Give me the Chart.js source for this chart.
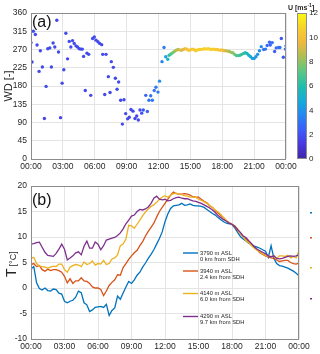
<!DOCTYPE html>
<html>
<head>
<meta charset="utf-8">
<script src="https://cdn.jsdelivr.net/npm/chart.js@4.4.1/dist/chart.umd.min.js"></script>
<style>
  html, body { margin: 0; padding: 0; background: #fff; }
  #wrap { position: relative; width: 320px; height: 354px; overflow: hidden; }
  #cA { position: absolute; left: 0; top: 0; }
  #cB { position: absolute; left: 0; top: 172px; }
</style>
</head>
<body>
<div id="wrap">
  <canvas id="cA" width="320" height="172"></canvas>
  <canvas id="cB" width="320" height="182"></canvas>
</div>
<script>
// ─── (a) wind direction, coloured by wind speed ───
const wdHour = [0.00,0.10,0.22,0.41,0.57,0.76,0.88,1.07,1.26,1.42,1.58,1.77,1.92,2.08,2.24,2.43,2.59,2.78,2.93,3.09,
  3.28,3.44,3.60,3.75,3.91,4.07,4.23,4.38,4.54,4.70,4.83,4.95,5.11,5.27,5.43,5.62,
  5.80,5.96,6.12,6.30,6.46,6.65,6.75,6.94,7.06,7.28,7.44,7.56,7.75,7.94,8.10,8.25,8.44,8.60,8.75,8.91,
  9.10,9.25,9.41,9.60,9.79,9.95,10.10,10.26,10.42,10.57,10.80,10.95,11.10,11.27,11.42,11.60,11.76,11.95,
  12.10,12.33,12.52,12.68,12.87,
  13.00,13.17,13.33,13.50,13.67,13.83,14.00,14.17,14.33,14.50,14.67,14.83,15.00,15.17,15.33,15.50,15.67,15.83,
  16.00,16.17,16.33,16.50,16.67,16.83,17.00,17.17,17.33,17.50,17.67,17.83,18.00,18.17,18.33,18.50,18.67,18.83,
  19.00,19.17,19.33,19.50,19.67,19.83,20.00,20.17,20.33,20.50,20.67,20.83,21.00,21.17,21.33,21.50,21.67,
  21.90,22.07,22.23,22.45,22.52,22.70,22.93,23.08,23.30,23.43,23.56,23.75,23.94,24.00];
const wdDir = [287,239,315,307,281,216,267,227,100,179,272,274,227,286,276,342,264,102,187,220,
  310,247,290,276,292,285,279,276,272,271,271,253,169,261,258,157,
  297,301,293,289,285,282,258,159,258,203,164,240,226,199,172,190,145,86,146,112,
  99,103,122,118,100,106,96,121,113,121,157,117,145,156,145,169,177,165,
  192,240,275,252,246,
  256,259,262,265,268,270,269,268,270,272,271,268,269,271,270,267,269,270,
  270,271,272,271,272,271,270,271,270,270,269,268,269,267,267,266,265,263,
  262,258,255,255,256,258,260,262,260,256,252,248,248,252,258,267,277,
  270,271,280,288,281,287,265,274,275,275,297,251,271,279];
const wdSpeed = [1.8,1.8,1.9,1.8,1.8,1.7,1.8,1.8,1.7,1.8,1.9,1.8,1.8,1.9,1.8,1.7,1.8,1.7,1.8,1.8,
  1.9,1.8,1.8,1.9,1.8,1.8,1.8,1.9,1.8,1.8,1.8,1.8,1.7,1.8,1.8,1.7,
  1.9,1.9,1.8,1.8,1.8,1.8,1.8,1.7,1.8,1.8,1.7,1.9,1.8,1.8,1.8,1.8,1.8,1.7,1.8,1.8,
  1.8,1.8,1.9,1.8,1.8,1.8,1.8,2.0,2.0,2.2,2.6,2.5,3.0,3.0,3.2,3.0,3.3,3.2,
  3.8,3.5,3.3,4.5,5.3,
  6.2,6.8,7.4,8.0,8.5,8.8,9.0,9.3,9.4,9.7,10.0,10.2,10.3,10.4,10.4,10.5,10.5,10.6,
  10.6,10.7,10.7,10.8,10.8,10.7,10.6,10.6,10.5,10.4,10.3,10.2,10.0,9.6,9.1,8.7,8.4,8.2,
  8.0,7.5,7.0,6.7,6.5,6.4,6.3,6.0,5.6,5.2,4.8,4.5,4.3,4.1,4.0,3.9,3.6,
  3.0,3.1,2.8,2.7,2.6,2.9,2.4,2.8,3.0,2.9,2.2,2.2,3.0,3.2];

// ─── (b) air temperature at four stations ───
const tHour = [0,0.25,0.5,0.75,1,1.25,1.5,1.75,2,2.25,2.5,2.75,3,3.25,3.5,3.75,4,4.25,4.5,4.75,
  5,5.25,5.5,5.75,6,6.25,6.5,6.75,7,7.25,7.5,7.75,8,8.25,8.5,8.75,9,9.25,9.5,9.75,
  10,10.25,10.5,10.75,11,11.25,11.5,11.75,12,12.25,12.5,12.75,13,13.25,13.5,13.75,14,14.25,14.5,14.75,
  15,15.25,15.5,15.75,16,16.25,16.5,16.75,17,17.25,17.5,17.75,18,18.25,18.5,18.75,19,19.25,19.5,19.75,
  20,20.25,20.5,20.75,21,21.25,21.5,21.75,22,22.25,22.5,22.75,23,23.25,23.5,23.75,24];
const temp3790 = [3.7,4.2,1.0,-0.1,-0.4,0.0,-0.5,-0.6,-0.2,-0.3,-1.0,-1.2,-2.6,-2.9,-2.6,-2.4,-1.8,-0.6,-0.9,-2.9,
  -3.3,-4.6,-4.3,-3.8,-3.7,-3.6,-3.8,-3.2,-5.4,-4.4,-3.9,-1.6,-2.2,-1.0,0.2,1.3,0.9,1.6,2.5,3.1,
  4.1,4.9,5.8,6.6,7.5,8.6,9.7,11.0,13.0,14.5,15.6,16.1,16.2,16.3,16.6,16.2,16.3,16.5,16.2,16.1,
  16.1,16.0,15.8,15.4,15.0,14.6,14.3,13.8,13.4,13.0,12.7,12.6,12.4,11.8,10.9,10.1,9.6,9.2,8.8,8.5,
  8.2,8.0,7.8,7.5,7.2,6.0,8.3,5.8,4.8,4.4,4.3,4.1,3.9,3.6,3.3,2.9,2.4];
const temp3940 = [4.6,4.8,4.2,4.4,3.6,3.3,3.7,3.4,3.6,3.6,3.4,3.1,2.3,1.0,1.8,0.9,1.4,1.4,2.0,1.4,
  1.3,0.9,0.2,0.0,0.0,-0.3,-1.5,-0.6,0.5,1.1,1.6,2.6,2.5,4.0,4.8,5.6,6.3,6.9,7.4,8.3,
  9.1,10.2,11.1,11.9,12.7,13.9,15.0,15.8,16.6,17.4,18.2,18.8,18.5,18.4,18.4,18.5,18.4,18.2,17.9,17.8,
  17.8,17.4,17.0,16.7,16.1,15.8,15.2,14.7,14.2,13.8,13.2,12.8,12.5,12.0,11.3,10.7,10.1,9.6,9.1,8.5,
  8.0,7.5,6.9,6.6,6.3,6.1,5.9,5.8,5.5,5.2,5.3,5.4,5.4,5.0,4.8,4.7,4.9];
const temp4140 = [5.8,6.0,4.8,4.3,4.2,4.1,3.9,4.1,4.3,4.2,4.7,4.7,3.6,3.1,4.1,4.4,4.6,4.5,4.2,5.1,
  4.6,4.8,5.3,4.5,4.8,4.7,5.4,4.6,4.8,5.7,5.9,6.5,8.3,8.6,9.6,12.3,12.2,11.7,12.5,13.3,
  14.2,14.9,15.5,16.0,16.3,16.8,17.4,17.8,18.1,17.8,18.2,18.5,18.6,18.4,18.3,18.1,18.0,17.8,17.8,17.8,
  17.4,17.2,16.9,16.6,16.2,15.8,15.3,14.9,14.4,13.8,13.2,12.8,12.5,12.2,11.6,10.6,10.1,9.2,8.9,8.3,
  7.8,7.4,7.1,6.7,6.4,6.2,6.2,6.3,5.8,6.3,6.3,6.2,6.4,5.9,6.2,5.9,7.4];
const temp4290 = [8.6,8.7,8.9,9.0,8.0,7.0,6.4,6.3,6.2,6.8,7.6,8.6,7.6,5.5,5.9,6.3,6.9,7.1,6.5,8.2,
  9.2,7.8,7.8,9.0,8.6,7.5,8.3,9.4,9.6,9.8,9.9,10.3,10.8,11.6,12.6,13.3,14.1,14.3,15.0,15.4,
  15.3,15.5,15.9,16.6,17.6,18.0,17.4,17.3,17.4,17.1,17.2,17.5,17.7,17.8,17.6,17.5,17.5,17.3,17.1,17.0,
  16.8,16.6,16.3,16.0,15.7,15.3,14.8,14.2,13.8,13.4,13.1,12.7,12.5,12.1,11.5,10.9,10.2,9.9,9.3,8.7,
  8.1,7.6,7.3,7.0,6.7,6.3,6.1,6.3,5.8,5.7,5.8,6.0,6.2,6.3,6.2,6.3,6.5];
const stationName = ['3790 m ASL', '3940 m ASL', '4140 m ASL', '4290 m ASL'];
const stationDist = ['0 km from SDH', '2.4 km from SDH', '6.0 km from SDH', '9.7 km from SDH'];

// ─── styling ───
const FONT = "'Liberation Sans', Arial, sans-serif";
const GRID = '#e4e4e4';
const BOX = '#8c8c8c';
const INK = '#262626';
const lineColors = ['#0072BD', '#D95319', '#EDB120', '#7E2F8E'];
Chart.defaults.font.family = FONT;
Chart.defaults.color = '#333';

// parula-like colour map, 0..12 m/s
const parulaStops = [[62,38,168],[72,56,222],[62,92,250],[38,135,240],[20,171,216],[35,189,170],
  [92,199,131],[171,191,84],[240,185,63],[247,209,44],[249,251,14]];
function parula(u) {
  const f = Math.max(0, Math.min(1, u / 12)) * (parulaStops.length - 1);
  const i = Math.min(Math.floor(f), parulaStops.length - 2);
  const r = f - i, a = parulaStops[i], b = parulaStops[i + 1];
  return 'rgb(' + [0,1,2].map(k => Math.round(a[k] + (b[k] - a[k]) * r)).join(',') + ')';
}

function hhmm(v) { return String(v % 24).padStart(2, '0') + ':00'; }

function strokeBox(chart) {
  const a = chart.chartArea, ctx = chart.ctx;
  ctx.save();
  ctx.strokeStyle = BOX;
  ctx.lineWidth = 1;
  ctx.strokeRect(Math.round(a.left) + 0.5, Math.round(a.top) + 0.5,
    Math.round(a.right - a.left) - 1, Math.round(a.bottom - a.top));
  ctx.restore();
}

function panelTag(chart, txt, y) {
  const ctx = chart.ctx;
  ctx.save();
  ctx.fillStyle = '#111';
  ctx.font = '16px ' + FONT;
  ctx.textBaseline = 'alphabetic';
  ctx.fillText(txt, chart.chartArea.left + 1, y);
  ctx.restore();
}

// ─── PANEL A ───
const decoA = {
  id: 'decoA',
  afterDraw(chart) {
    strokeBox(chart);
    panelTag(chart, '(a)', 27);
    const ctx = chart.ctx, cb = chart.scales.yc;
    const top = cb.getPixelForValue(12), bot = cb.getPixelForValue(0);
    const x0 = cb.left + 11, w = 10;
    const g = ctx.createLinearGradient(0, bot, 0, top);
    parulaStops.forEach((c, i) => g.addColorStop(i / (parulaStops.length - 1), 'rgb(' + c.join(',') + ')'));
    ctx.save();
    ctx.fillStyle = g;
    ctx.fillRect(x0, top, w, bot - top);
    ctx.strokeStyle = BOX;
    ctx.strokeRect(x0 + 0.5, top + 0.5, w - 1, bot - top - 1);
    // colorbar title U [ms^-1]
    ctx.fillStyle = INK;
    ctx.textBaseline = 'alphabetic';
    let x = 288;
    ctx.font = 'bold 7px ' + FONT;
    ctx.fillText('U [ms', x, 10); x += ctx.measureText('U [ms').width;
    ctx.font = 'bold 5px ' + FONT;
    ctx.fillText('-1', x, 7); x += ctx.measureText('-1').width;
    ctx.font = 'bold 7px ' + FONT;
    ctx.fillText(']', x, 10);
    ctx.restore();
  }
};

new Chart(document.getElementById('cA'), {
  type: 'scatter',
  data: {
    datasets: [{
      data: wdHour.map((h, i) => ({ x: h, y: wdDir[i] })),
      backgroundColor: wdSpeed.map(parula),
      borderWidth: 0,
      pointRadius: 1.7,
      pointHoverRadius: 1.7
    }]
  },
  options: {
    responsive: false, animation: false, devicePixelRatio: 1,
    layout: { padding: { top: 13, left: 0, right: 0, bottom: 0 } },
    plugins: { legend: { display: false }, tooltip: { enabled: false } },
    scales: {
      x: {
        type: 'linear', min: 0, max: 24,
        ticks: { stepSize: 3, callback: hhmm, font: { size: 8.5 }, padding: 3, maxRotation: 0, autoSkip: false, color: INK },
        grid: { color: GRID, drawTicks: false }, border: { display: false },
        afterFit(s) { s.height = 13; }
      },
      y: {
        min: 0, max: 360,
        ticks: { stepSize: 45, font: { size: 8.5 }, padding: 4, color: INK },
        grid: { color: GRID, drawTicks: false }, border: { display: false },
        title: { display: true, text: 'WD [-]', font: { size: 11 }, color: INK, padding: { top: 2, bottom: 0 } },
        afterFit(s) { s.width = 31; }
      },
      yc: {
        type: 'linear', position: 'right', min: 0, max: 12,
        ticks: { stepSize: 2, font: { size: 8 }, padding: 2, color: INK },
        grid: { display: true, drawOnChartArea: false, drawTicks: true, tickLength: 21, color: 'rgba(0,0,0,0)' },
        border: { display: false },
        afterFit(s) { s.width = 34; }
      }
    }
  },
  plugins: [decoA]
});

// ─── PANEL B ───
const decoB = {
  id: 'decoB',
  afterDraw(chart) {
    strokeBox(chart);
    panelTag(chart, '(b)', 33);
    const ctx = chart.ctx;
    ctx.save();
    // y title: big T with small [°C]
    ctx.fillStyle = INK;
    ctx.translate(15.5, 105);
    ctx.rotate(-Math.PI / 2);
    ctx.textBaseline = 'alphabetic';
    ctx.font = '14px ' + FONT;
    ctx.fillText('T', 0, 0);
    const wT = ctx.measureText('T').width;
    ctx.font = '9px ' + FONT;
    ctx.fillText('[°C]', wT + 2, 0);
    ctx.restore();
    // legend
    const ys = [81, 99, 121.5, 144.5];
    ctx.save();
    ctx.font = '5.8px ' + FONT;
    ctx.textBaseline = 'middle';
    ys.forEach((y, i) => {
      ctx.strokeStyle = lineColors[i];
      ctx.lineWidth = 1.4;
      ctx.beginPath(); ctx.moveTo(183, y); ctx.lineTo(198, y); ctx.stroke();
      ctx.fillStyle = INK;
      ctx.fillText(stationName[i], 200, y);
      ctx.fillText(stationDist[i], 200, y + 6);
      // stray legend marks beyond the axes
      ctx.fillStyle = lineColors[i];
      ctx.fillRect(310, [40, 65, 95, 126][i], 2, 1.5);
    });
    ctx.restore();
  }
};

const seriesB = [temp3790, temp3940, temp4140, temp4290];
new Chart(document.getElementById('cB'), {
  type: 'line',
  data: {
    datasets: seriesB.map((vals, i) => ({
      label: stationName[i],
      data: tHour.map((h, k) => ({ x: h, y: vals[k] })),
      borderColor: lineColors[i],
      borderWidth: 1.3,
      pointRadius: 0,
      tension: 0,
      fill: false,
      order: 4 - i
    }))
  },
  options: {
    responsive: false, animation: false, devicePixelRatio: 1,
    layout: { padding: { top: 14, right: 21, left: 0, bottom: 0 } },
    plugins: { legend: { display: false }, tooltip: { enabled: false } },
    scales: {
      x: {
        type: 'linear', min: 0, max: 24,
        ticks: { stepSize: 3, callback: hhmm, font: { size: 8.5 }, padding: 3, maxRotation: 0, autoSkip: false, color: INK },
        grid: { color: GRID, drawTicks: false }, border: { display: false },
        afterFit(s) { s.height = 15; }
      },
      y: {
        min: -10, max: 20,
        ticks: { stepSize: 5, font: { size: 8.5 }, padding: 4, color: INK },
        grid: { color: GRID, drawTicks: false }, border: { display: false },
        afterFit(s) { s.width = 31; }
      }
    }
  },
  plugins: [decoB]
});
</script>
</body>
</html>
